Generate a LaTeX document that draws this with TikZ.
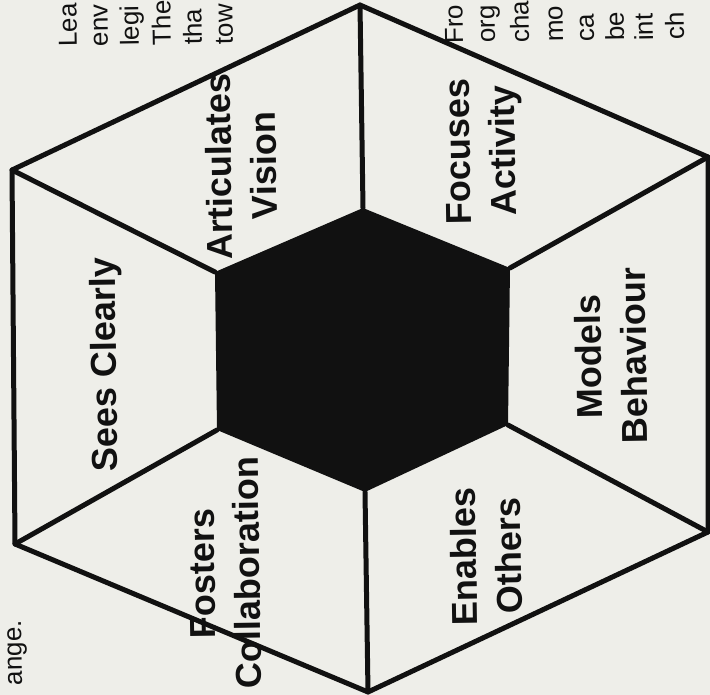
\documentclass[tikz,border=0pt]{standalone}
\usepackage{fontspec}
\setmainfont{Liberation Sans}
\definecolor{paper}{RGB}{238,238,233}
\definecolor{ink}{RGB}{17,17,17}

\begin{document}
\begin{tikzpicture}[x=1pt, y=-1pt, line join=round, line cap=round,
    edge/.style={line width=5pt, draw=ink},
    facet/.style={font=\bfseries\fontsize{36}{45}\selectfont, text=ink,
        rotate=90.9, align=center, inner sep=0pt},
    margintext/.style={font=\fontsize{26}{31}\selectfont, text=ink,
        rotate=90.9, inner sep=0pt, anchor=base west}]

    % Paper and frame
    \fill[paper] (0,0) rectangle (710,695);
    \useasboundingbox (0,0) rectangle (710,695);
    \clip (0,0) rectangle (710,695);

    % Outer hexagon
    \coordinate (OT) at (360,5);
    \coordinate (OUL) at (12,170);
    \coordinate (OLL) at (15,544);
    \coordinate (OB) at (368,692);
    \coordinate (OLR) at (708,532);
    \coordinate (OUR) at (708,157);

    % Inner hexagon
    \coordinate (IT) at (363,208);
    \coordinate (IUL) at (215,272);
    \coordinate (ILL) at (217,430);
    \coordinate (IB) at (365,492);
    \coordinate (ILR) at (508,425);
    \coordinate (IUR) at (510,268);

    % Black core
    \fill[ink] (IT) -- (IUL) -- (ILL) -- (IB) -- (ILR) -- (IUR) -- cycle;

    % Outline
    \draw[edge] (OT) -- (OUL) -- (OLL) -- (OB) -- (OLR) -- (OUR) -- cycle;

    % Spokes from the core to the corners
    \draw[edge] (IT) -- (OT);
    \draw[edge] (IUL) -- (OUL);
    \draw[edge] (ILL) -- (OLL);
    \draw[edge] (IB) -- (OB);
    \draw[edge] (ILR) -- (OLR);
    \draw[edge] (IUR) -- (OUR);

    % Facet labels
    \node[facet] (sees) at (107,365) {Sees Clearly};
    \node[facet] (vision) at (241,166) {Articulates\\Vision};
    \node[facet] (focus) at (484,151) {Focuses\\Activity};
    \node[facet] (models) at (611,356) {Models\\Behaviour};
    \node[facet] (enables) at (486,556) {Enables\\Others};
    \node[facet] (fosters) at (225,573) {Fosters\\Collaboration};

    % Page text fragments, left column
    \node[margintext] (lineA) at (77,47) {Lea};
    \node[margintext] (lineB) at (108,46.5) {env};
    \node[margintext] (lineC) at (139,46) {legi};
    \node[margintext] (lineD) at (171,45.5) {The};
    \node[margintext] (lineE) at (202,45) {tha};
    \node[margintext] (lineF) at (233,44.5) {tow};

    % Page text fragments, right column
    \node[margintext] (lineG) at (463,44) {Fro};
    \node[margintext] (lineH) at (495,43) {org};
    \node[margintext] (lineI) at (529,43) {cha};
    \node[margintext] (lineJ) at (563,42) {mo};
    \node[margintext] (lineK) at (594,42) {ca};
    \node[margintext] (lineL) at (624,41) {be};
    \node[margintext] (lineM) at (653,41) {int};
    \node[margintext] (lineN) at (684,40) {ch};

    % Page text fragment, bottom left
    \node[margintext, anchor=base east] (lineO) at (21,620) {ange.};
\end{tikzpicture}
\end{document}
